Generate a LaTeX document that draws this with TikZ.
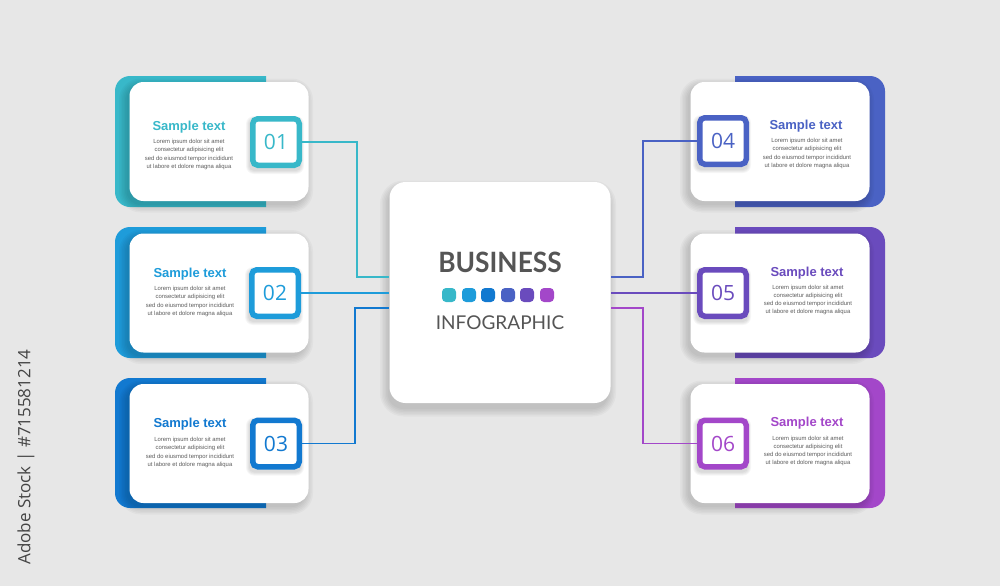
\documentclass[tikz,border=0pt]{standalone}
\usepackage{fontspec}
\setmainfont{Liberation Sans}
\newfontfamily\latofont{Lato}
\newfontfamily\osfont{Open Sans}
\usetikzlibrary{calc}
\definecolor{bg}{HTML}{E7E7E7}
\definecolor{ca}{HTML}{38B8C9}
\definecolor{cb}{HTML}{1E9CDA}
\definecolor{cc}{HTML}{1279D0}
\definecolor{cd}{HTML}{4A62C4}
\definecolor{ce}{HTML}{6A4BBD}
\definecolor{cf}{HTML}{A347C9}
\definecolor{bodygray}{HTML}{5C5C5C}
\definecolor{headgray}{HTML}{555555}
% soft shadow: centre x, centre y, half width, half height, radius, offset x, offset y
\newcommand\mysoftshadow[7]{%
  \foreach \e in {0,1.5,...,7.5}{%
    \fill[black, opacity=0.028, rounded corners=#5pt+\e pt]
      ({#1-#3-\e+#6},{#2-#4-\e+#7}) rectangle ({#1+#3+\e+#6},{#2+#4+\e+#7});
  }%
}
\begin{document}
\begin{tikzpicture}[x=1pt,y=-1pt,
  card/.style={fill=white, rounded corners=14pt, minimum width=179pt, minimum height=119pt, inner sep=0pt},
  bigcard/.style={fill=white, rounded corners=16pt, minimum width=221pt, minimum height=221pt, inner sep=0pt},
  numbox/.style={draw=#1, fill=white, line width=5.5pt, rounded corners=5pt, minimum size=46.5pt, inner sep=0pt,
    text=#1, font=\osfont\fontsize{21}{21}\selectfont},
  titletext/.style={text=#1, font=\bfseries\fontsize{13}{13}\selectfont, inner sep=0pt},
  bodytext/.style={text=bodygray, font=\fontsize{5.9}{8.3}\selectfont, align=center, inner sep=0pt},
  link/.style={draw=#1, line width=1.4pt},
  dot/.style={fill=#1, rounded corners=4pt, minimum size=14pt, inner sep=0pt},
]
\fill[bg] (0,0) rectangle (1000,586);
\useasboundingbox (0,0) rectangle (1000,586);

% left plates
\fill[ca] (266,76) [rounded corners=15pt] -- (115,76) -- (115,207) [sharp corners] -- (266,207) -- cycle;
\fill[cb] (266,227) [rounded corners=15pt] -- (115,227) -- (115,358) [sharp corners] -- (266,358) -- cycle;
\fill[cc] (266,378) [rounded corners=15pt] -- (115,378) -- (115,508) [sharp corners] -- (266,508) -- cycle;
% right plates
\fill[cd] (735,76) [rounded corners=15pt] -- (885,76) -- (885,207) [sharp corners] -- (735,207) -- cycle;
\fill[ce] (735,227) [rounded corners=15pt] -- (885,227) -- (885,358) [sharp corners] -- (735,358) -- cycle;
\fill[cf] (735,378) [rounded corners=15pt] -- (885,378) -- (885,508) [sharp corners] -- (735,508) -- cycle;

% card shadows
\mysoftshadow{219}{141.5}{89.5}{59.5}{14}{-3}{4}
\mysoftshadow{219}{293}{89.5}{59.5}{14}{-3}{4}
\mysoftshadow{219}{443.5}{89.5}{59.5}{14}{-3}{4}
\mysoftshadow{780}{141.5}{89.5}{59.5}{14}{-3}{4}
\mysoftshadow{780}{293}{89.5}{59.5}{14}{-3}{4}
\mysoftshadow{780}{443.5}{89.5}{59.5}{14}{-3}{4}

% cards
\node[card] (k1) at (219,141.5) {};
\node[card] (k2) at (219,293) {};
\node[card] (k3) at (219,443.5) {};
\node[card] (k4) at (780,141.5) {};
\node[card] (k5) at (780,293) {};
\node[card] (k6) at (780,443.5) {};

% number box shadows
\foreach \nx/\ny in {276/142, 275/293, 276/443.5, 723/141, 723/293, 723/443.5}{
  \foreach \e in {0,1,2,3}{
    \fill[black, opacity=0.035, rounded corners=5pt+\e pt]
      ({\nx-26-\e-1},{\ny-26-\e+3}) rectangle ({\nx+26+\e-1},{\ny+26+\e+3});
  }
}

% number boxes
\node[numbox=ca] (n1) at (276,142) {01};
\node[numbox=cb] (n2) at (275,293) {02};
\node[numbox=cc] (n3) at (276,443.5) {03};
\node[numbox=cd] (n4) at (723,141) {04};
\node[numbox=ce] (n5) at (723,293) {05};
\node[numbox=cf] (n6) at (723,443.5) {06};

% titles and bodies
\node[titletext=ca] (t1) at (189,127) {Sample text};
\node[bodytext] (b1) at (189,154.5) {Lorem ipsum dolor sit amet\\consectetur adipisicing elit\\sed do eiusmod tempor incididunt\\ut labore et dolore magna aliqua};
\node[titletext=cb] (t2) at (190,274) {Sample text};
\node[bodytext] (b2) at (190,301.5) {Lorem ipsum dolor sit amet\\consectetur adipisicing elit\\sed do eiusmod tempor incididunt\\ut labore et dolore magna aliqua};
\node[titletext=cc] (t3) at (190,424) {Sample text};
\node[bodytext] (b3) at (190,452.5) {Lorem ipsum dolor sit amet\\consectetur adipisicing elit\\sed do eiusmod tempor incididunt\\ut labore et dolore magna aliqua};
\node[titletext=cd] (t4) at (806,126) {Sample text};
\node[bodytext] (b4) at (807,153.5) {Lorem ipsum dolor sit amet\\consectetur adipisicing elit\\sed do eiusmod tempor incididunt\\ut labore et dolore magna aliqua};
\node[titletext=ce] (t5) at (807,273) {Sample text};
\node[bodytext] (b5) at (808,300) {Lorem ipsum dolor sit amet\\consectetur adipisicing elit\\sed do eiusmod tempor incididunt\\ut labore et dolore magna aliqua};
\node[titletext=cf] (t6) at (807,423) {Sample text};
\node[bodytext] (b6) at (808,451) {Lorem ipsum dolor sit amet\\consectetur adipisicing elit\\sed do eiusmod tempor incididunt\\ut labore et dolore magna aliqua};

% central card
\mysoftshadow{500}{292.5}{110.5}{110.5}{16}{-2}{6}
\node[bigcard] (c) at (500,292.5) {};

% connectors
\draw[link=ca] (n1.east) -| (357,277) -- (c.west |- 0,277);
\draw[link=cb] (n2.east) -- (c.west |- n2.east);
\draw[link=cc] (n3.east) -| (355,308) -- (c.west |- 0,308);
\draw[link=cd] (n4.west) -| (643,277) -- (c.east |- 0,277);
\draw[link=ce] (n5.west) -- (c.east |- n5.west);
\draw[link=cf] (n6.west) -| (643,308) -- (c.east |- 0,308);

% central text
\node[text=headgray, font=\latofont\bfseries\fontsize{28}{28}\selectfont, inner sep=0pt, xscale=0.94] (bus) at (500,262) {BUSINESS};
\node[dot=ca] (d1) at (449,295) {};
\node[dot=cb] (d2) at (469,295) {};
\node[dot=cc] (d3) at (488,295) {};
\node[dot=cd] (d4) at (508,295) {};
\node[dot=ce] (d5) at (527,295) {};
\node[dot=cf] (d6) at (547,295) {};
\node[text=headgray, font=\latofont\fontsize{19}{19}\selectfont, inner sep=0pt] (info) at (500,323) {INFOGRAPHIC};

% side label
\node[rotate=90, text=headgray!80!black, font=\osfont\fontsize{17}{17}\selectfont, inner sep=0pt] (src) at (26,457) {Adobe Stock | \#715581214};
\end{tikzpicture}
\end{document}
